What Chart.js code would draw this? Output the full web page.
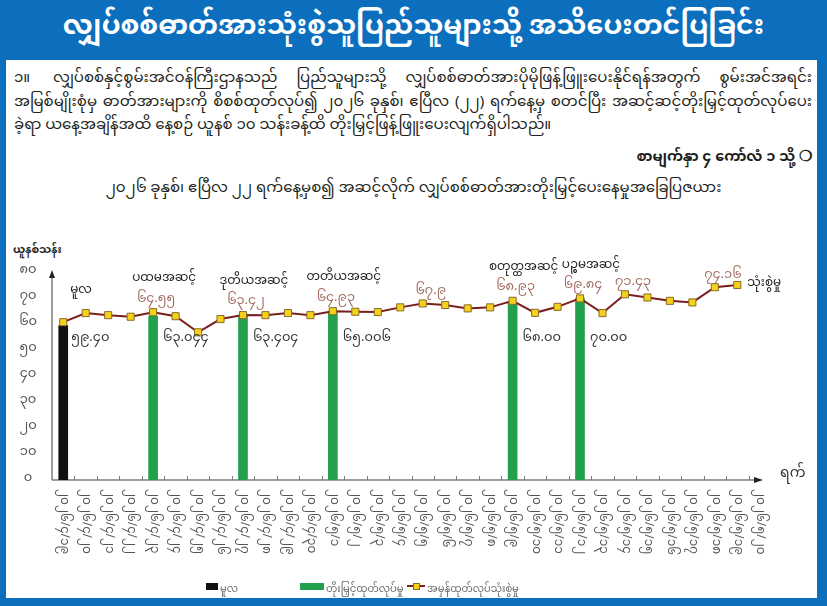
<!DOCTYPE html>
<html>
<head>
<meta charset="utf-8">
<script src="https://cdn.jsdelivr.net/npm/chart.js"></script>
<style>
  html, body { margin: 0; padding: 0; }
  body {
    width: 827px; height: 606px; overflow: hidden; position: relative; background: #fff;
    font-family: "Noto Sans Myanmar", "Padauk", "Myanmar Text", "Noto Sans", sans-serif; color: #231f20;
  }
  .frame {
    position: absolute; left: 0; top: 0; width: 827px; height: 606px; box-sizing: border-box;
    border-left: 6px solid #0b6fbe; border-right: 10px solid #0b6fbe; border-bottom: 8px solid #0b6fbe;
  }
  .title {
    position: absolute; left: 0; top: 0; width: 827px; height: 60px; background: #0b6fbe; color: #fff;
    font-size: 27px; font-weight: bold; text-align: center; line-height: 56px; white-space: nowrap;
  }
  .para { position: absolute; left: 14px; top: 67px; width: 798px; font-size: 15px; line-height: 23.5px; }
  .para div { white-space: nowrap; text-align: justify; text-align-last: justify; }
  .para div.last { text-align-last: left; }
  .para .num { display: inline-block; width: 39px; }
  .ref { position: absolute; right: 15px; top: 142px; font-size: 14.5px; font-weight: bold; white-space: nowrap; }
  .ctitle { position: absolute; left: 0; width: 827px; top: 172px; text-align: center; font-size: 15px; white-space: nowrap; }
  .unit { position: absolute; left: 13px; top: 238px; font-size: 11px; font-weight: bold; }
  #wrap { position: absolute; left: 0; top: 228px; width: 817px; height: 370px; }
  .lg { position: absolute; top: 579px; font-size: 10px; color: #666; white-space: nowrap; }
  .sw { position: absolute; top: 583px; height: 7px; }
</style>
</head>
<body>
<div class="frame"></div>
<div class="title">လျှပ်စစ်ဓာတ်အားသုံးစွဲသူပြည်သူများသို့ အသိပေးတင်ပြခြင်း</div>
<div class="para">
  <div><span class="num">၁။</span>လျှပ်စစ်နှင့်စွမ်းအင်ဝန်ကြီးဌာနသည် ပြည်သူများသို့ လျှပ်စစ်ဓာတ်အားပိုမိုဖြန့်ဖြူးပေးနိုင်ရန်အတွက် စွမ်းအင်အရင်း</div>
  <div>အမြစ်မျိုးစုံမှ ဓာတ်အားများကို စိစစ်ထုတ်လုပ်၍ ၂၀၂၆ ခုနှစ်၊ ဧပြီလ (၂၂) ရက်နေ့မှ စတင်ပြီး အဆင့်ဆင့်တိုးမြှင့်ထုတ်လုပ်ပေး</div>
  <div class="last">ခဲ့ရာ ယနေ့အချိန်အထိ နေ့စဉ် ယူနစ် ၁၀ သန်းခန့်ထိ တိုးမြှင့်ဖြန့်ဖြူးပေးလျက်ရှိပါသည်။</div>
</div>
<div class="ref">စာမျက်နှာ ၄ ကော်လံ ၁ သို့ ❍</div>
<div class="ctitle">၂၀၂၆ ခုနှစ်၊ ဧပြီလ ၂၂ ရက်နေ့မှစ၍ အဆင့်လိုက် လျှပ်စစ်ဓာတ်အားတိုးမြှင့်ပေးနေမှုအခြေပြဇယား</div>
<div class="unit">ယူနစ်သန်း</div>
<div id="wrap"><canvas id="myChart" width="817" height="370"></canvas></div>

<div class="sw" style="left:206px;width:12px;background:#111;"></div>
<div class="lg" style="left:220px;">မူလ</div>
<div class="sw" style="left:300px;width:24px;background:#22a04b;"></div>
<div class="lg" style="left:326px;">တိုးမြှင့်ထုတ်လုပ်မှု</div>
<div style="position:absolute;left:407px;top:585px;width:18px;height:2px;background:#7a1e1e;"></div>
<div style="position:absolute;left:413px;top:583px;width:5px;height:5px;background:#f4d21a;border:1px solid #8a6a2a;"></div>
<div class="lg" style="left:427px;">အမှန်ထုတ်လုပ်သုံးစွဲမှု</div>

<script>
// dates on the x axis (2026 April 19 - May 20)
var dates = [
  '၂၀၂၆/၄/၁၉', '၂၀၂၆/၄/၂၀', '၂၀၂၆/၄/၂၁', '၂၀၂၆/၄/၂၂', '၂၀၂၆/၄/၂၃', '၂၀၂၆/၄/၂၄',
  '၂၀၂၆/၄/၂၅', '၂၀၂၆/၄/၂၆', '၂၀၂၆/၄/၂၇', '၂၀၂၆/၄/၂၈', '၂၀၂၆/၄/၂၉', '၂၀၂၆/၄/၃၀',
  '၂၀၂၆/၅/၁', '၂၀၂၆/၅/၂', '၂၀၂၆/၅/၃', '၂၀၂၆/၅/၄', '၂၀၂၆/၅/၅', '၂၀၂၆/၅/၆',
  '၂၀၂၆/၅/၇', '၂၀၂၆/၅/၈', '၂၀၂၆/၅/၉', '၂၀၂၆/၅/၁၀', '၂၀၂၆/၅/၁၁', '၂၀၂၆/၅/၁၂',
  '၂၀၂၆/၅/၁၃', '၂၀၂၆/၅/၁၄', '၂၀၂၆/၅/၁၅', '၂၀၂၆/၅/၁၆', '၂၀၂၆/၅/၁၇', '၂၀၂၆/၅/၁၈',
  '၂၀၂၆/၅/၁၉', '၂၀၂၆/၅/၂၀'
];

var consumption = [
  60.7, 64.2, 63.4, 62.8, 64.55, 63.0, 56.8, 61.9, 63.42, 63.4, 64.2,
  63.4, 64.93, 64.7, 64.6, 66.4, 67.9, 67.3, 66.0, 66.4, 68.93, 64.3,
  66.6, 69.84, 64.2, 71.43, 70.2, 68.9, 68.3, 74.16, 75.0, null
];

// baseline bar
var baseIndex = 0;
var baseValue = 59.40;
var baseName = 'မူလ';
var baseText = '၅၉.၄၀';

// step-up bars
var stepIndex = [4, 8, 12, 20, 23];
var stepValues = [63.044, 63.404, 65.006, 68.00, 70.00];
var stepText = ['၆၃.၀၄၄', '၆၃.၄၀၄', '၆၅.၀၀၆', '၆၈.၀၀', '၇၀.၀၀'];
var stepNames = ['ပထမအဆင့်', 'ဒုတိယအဆင့်', 'တတိယအဆင့်', 'စတုတ္ထအဆင့်', 'ပဉ္စမအဆင့်'];
var stepLineText = ['၆၄.၅၅', '၆၃.၄၂', '၆၄.၉၃', '၆၈.၉၃', '၆၉.၈၄'];

// other labelled points on the line
var extraIndex = [16, 25, 29];
var extraText = ['၆၇.၉', '၇၁.၄၃', '၇၄.၁၆'];
var lineEndText = 'သုံးစွဲမှု';

var yTickLabels = ['၀', '၁၀', '၂၀', '၃၀', '၄၀', '၅၀', '၆၀', '၇၀', '၈၀'];
var xAxisName = 'ရက်';

var MM = '"Noto Sans Myanmar", "Padauk", "Myanmar Text", "Noto Sans", sans-serif';

var baseData = dates.map(function (d, i) { return i === baseIndex ? baseValue : null; });
var stepData = dates.map(function (d, i) {
  var k = stepIndex.indexOf(i);
  return k >= 0 ? stepValues[k] : null;
});

// axis lines with arrows, small inner ticks, rotated date labels
var axesPlugin = {
  id: 'axesPlugin',
  beforeDatasetsDraw: function (chart) {
    var ctx = chart.ctx, a = chart.chartArea, xs = chart.scales.x;
    ctx.save();
    ctx.strokeStyle = '#7d7d7d';
    ctx.fillStyle = '#222';
    ctx.lineWidth = 1.5;
    var xEnd = 762;
    ctx.beginPath();
    ctx.moveTo(a.left, a.bottom);
    ctx.lineTo(a.left, a.top + 4);
    ctx.moveTo(a.left, a.bottom);
    ctx.lineTo(xEnd - 4, a.bottom);
    ctx.stroke();
    // arrows
    ctx.beginPath();
    ctx.moveTo(a.left - 3, a.top + 6);
    ctx.lineTo(a.left, a.top - 2);
    ctx.lineTo(a.left + 3, a.top + 6);
    ctx.closePath();
    ctx.fill();
    ctx.beginPath();
    ctx.moveTo(xEnd - 8, a.bottom - 3);
    ctx.lineTo(xEnd + 1, a.bottom);
    ctx.lineTo(xEnd - 8, a.bottom + 3);
    ctx.closePath();
    ctx.fill();
    // ticks at category boundaries
    ctx.lineWidth = 1;
    ctx.beginPath();
    for (var i = 0; i < dates.length - 1; i++) {
      var bx = Math.round((xs.getPixelForValue(i) + xs.getPixelForValue(i + 1)) / 2) + 0.5;
      ctx.moveTo(bx, a.bottom);
      ctx.lineTo(bx, a.bottom - 4);
    }
    ctx.stroke();
    ctx.restore();
  },
  afterDraw: function (chart) {
    var ctx = chart.ctx, a = chart.chartArea, xs = chart.scales.x;
    ctx.save();
    ctx.fillStyle = '#555';
    ctx.font = '12px ' + MM;
    ctx.textAlign = 'left';
    ctx.textBaseline = 'middle';
    dates.forEach(function (d, i) {
      ctx.save();
      ctx.translate(xs.getPixelForValue(i) - 1, a.bottom + 9);
      ctx.rotate(Math.PI / 2);
      ctx.fillText(d, 0, 0);
      ctx.restore();
    });
    ctx.fillStyle = '#333';
    ctx.font = '14px ' + MM;
    ctx.fillText(xAxisName, 780, a.bottom - 4);
    ctx.restore();
  }
};

// value and step labels
var labelPlugin = {
  id: 'labelPlugin',
  afterDatasetsDraw: function (chart) {
    var ctx = chart.ctx, xs = chart.scales.x, ys = chart.scales.y;
    var barY = ys.getPixelForValue(54);
    ctx.save();
    ctx.textBaseline = 'middle';

    // baseline
    var bx = xs.getPixelForValue(baseIndex);
    var by = ys.getPixelForValue(consumption[baseIndex]);
    ctx.fillStyle = '#222';
    ctx.font = '12px ' + MM;
    ctx.textAlign = 'left';
    ctx.fillText(baseName, bx + 7, by - 30);
    ctx.font = '13px ' + MM;
    ctx.fillStyle = '#333';
    ctx.fillText(baseText, bx + 8, barY);

    stepIndex.forEach(function (idx, k) {
      var x = xs.getPixelForValue(idx);
      var y = ys.getPixelForValue(consumption[idx]);
      ctx.textAlign = 'center';
      ctx.fillStyle = '#222';
      ctx.font = '12px ' + MM;
      ctx.fillText(stepNames[k], x + 11, y - 32);
      ctx.fillStyle = '#a26e62';
      ctx.font = '13px ' + MM;
      ctx.fillText(stepLineText[k], x + 3, y - 12);
      ctx.textAlign = 'left';
      ctx.fillStyle = '#333';
      ctx.fillText(stepText[k], x + 10, barY);
    });

    extraIndex.forEach(function (idx, k) {
      var x = xs.getPixelForValue(idx);
      var y = ys.getPixelForValue(consumption[idx]);
      ctx.textAlign = 'center';
      ctx.fillStyle = '#a26e62';
      ctx.font = '13px ' + MM;
      ctx.fillText(extraText[k], x + 8, y - 11);
    });

    var last = consumption.length - 2;
    ctx.textAlign = 'left';
    ctx.fillStyle = '#222';
    ctx.font = '12px ' + MM;
    ctx.fillText(lineEndText, xs.getPixelForValue(last) + 10, ys.getPixelForValue(consumption[last]));
    ctx.restore();
  }
};

var ctx = document.getElementById('myChart').getContext('2d');
var myChart = new Chart(ctx, {
  type: 'bar',
  data: {
    labels: dates,
    datasets: [
      {
        type: 'line',
        label: 'အမှန်ထုတ်လုပ်သုံးစွဲမှု',
        data: consumption,
        borderColor: '#7a1e1e',
        borderWidth: 2,
        pointStyle: 'rect',
        pointRadius: 5,
        pointBackgroundColor: '#f4d21a',
        pointBorderColor: '#8a6a2a',
        pointBorderWidth: 1,
        tension: 0,
        order: 0
      },
      {
        label: 'မူလ',
        data: baseData,
        backgroundColor: '#111',
        barThickness: 9,
        grouped: false,
        order: 1
      },
      {
        label: 'တိုးမြှင့်ထုတ်လုပ်မှု',
        data: stepData,
        backgroundColor: '#22a04b',
        barThickness: 9,
        grouped: false,
        order: 1
      }
    ]
  },
  options: {
    responsive: false,
    animation: false,
    layout: { padding: { left: 0, top: 44, right: 46, bottom: 0 } },
    plugins: {
      legend: { display: false },
      tooltip: { enabled: false }
    },
    scales: {
      x: {
        offset: true,
        grid: { display: false },
        border: { display: false },
        ticks: { display: false },
        afterFit: function (s) { s.height = 118; }
      },
      y: {
        min: 0,
        max: 80,
        grid: { display: false, tickLength: 12 },
        border: { display: false },
        ticks: {
          stepSize: 10,
          color: '#555',
          crossAlign: 'center',
          font: { size: 13, family: MM },
          callback: function (v) { return yTickLabels[v / 10]; }
        },
        afterFit: function (s) { s.width = 52; }
      }
    }
  },
  plugins: [axesPlugin, labelPlugin]
});
</script>
</body>
</html>
